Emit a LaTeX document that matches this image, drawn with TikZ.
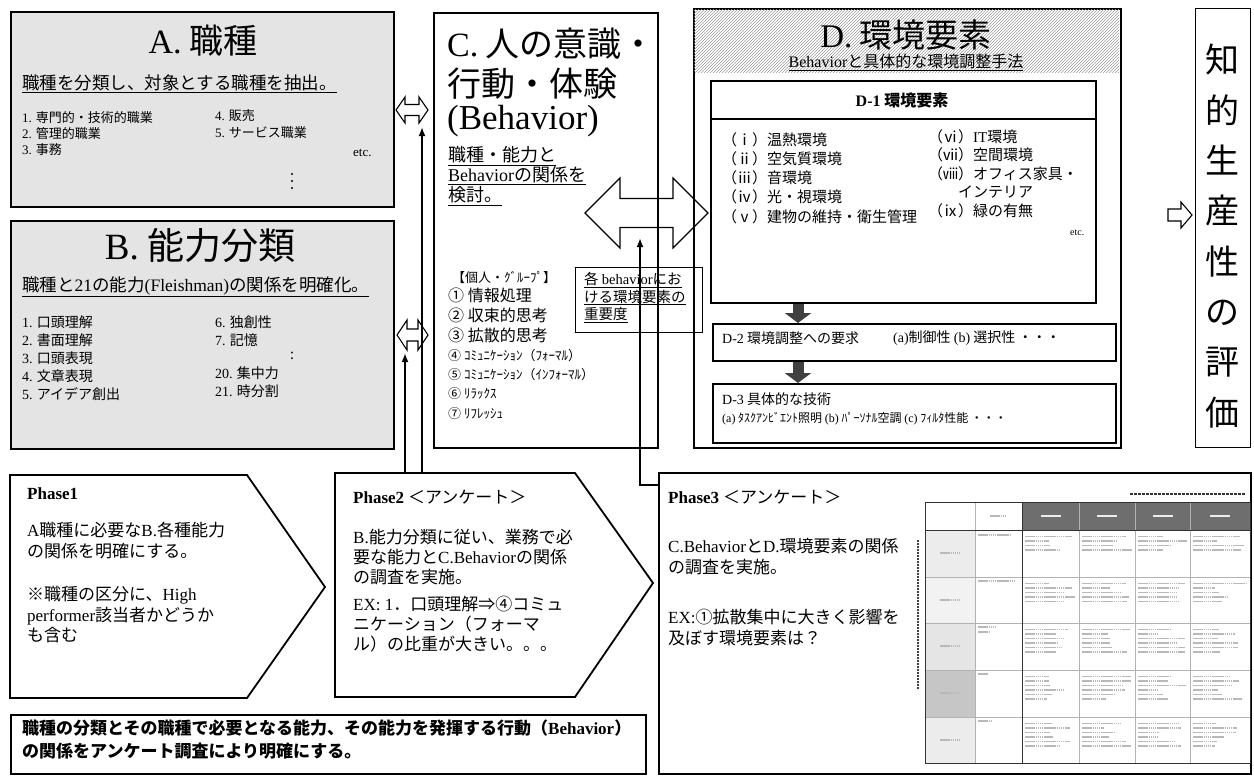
\documentclass[tikz,border=0pt]{standalone}
\usepackage{fontspec}
\setmainfont{Noto Sans CJK JP}
\newfontfamily\sr{Liberation Serif}
\usetikzlibrary{patterns,arrows.meta,calc}
\newcommand\ls[1]{{\sr #1}}
\newcommand\fs[2]{\fontsize{#1}{#2}\selectfont}
\definecolor{boxgray}{HTML}{E4E4E4}
\definecolor{blkgray}{HTML}{404040}
\definecolor{hdrgray}{HTML}{6E6E6E}
\newcommand\dblarrow[6]{% cx cy L h H s
  \draw[hol] ({#1-#3},#2) -- ({#1-#3+#4},{#2-#5}) -- ({#1-#3+#4},{#2-#6}) -- ({#1+#3-#4},{#2-#6}) -- ({#1+#3-#4},{#2-#5}) -- ({#1+#3},#2) -- ({#1+#3-#4},{#2+#5}) -- ({#1+#3-#4},{#2+#6}) -- ({#1-#3+#4},{#2+#6}) -- ({#1-#3+#4},{#2+#5}) -- cycle;}
\begin{document}
\begin{tikzpicture}[x=1pt,y=-1pt,
  box/.style={draw=black,line width=1.8pt},
  txt/.style={inner sep=0pt,anchor=west},
  ml/.style={inner sep=0pt,anchor=north west,align=left},
  ctr/.style={inner sep=0pt},
  conn/.style={draw=black,line width=2pt,-{Latex[length=9pt,width=7pt]}},
  hol/.style={draw=black,line width=1.1pt,line join=miter},
  blkarrow/.style={draw=blkgray,line width=11pt,-{Triangle[length=10pt,width=26pt]}},
  fake/.style={gray!55,line width=1.3pt,dash pattern=on 1.6pt off 0.5pt},
]
\useasboundingbox (0,0) rectangle (1254,777);
\fill[white] (0,0) rectangle (1254,777);

% ---------- A ----------
\node[box,fill=boxgray,anchor=north west,minimum width=383pt,minimum height=195pt,inner sep=0pt] (A) at (10,11) {};
\node[ctr,font=\fs{34}{36}] (Atitle) at (203,41) {\ls{A.} 職種};
\node[txt,font=\fs{17.5}{20}] (Asub) at (22,84) {\underline{職種を分類し、対象とする職種を抽出。}};
\node[ml,font=\fs{13}{16}] (Alist1) at (22,111) {\ls{1.} 専門的・技術的職業\\\ls{2.} 管理的職業\\\ls{3.} 事務};
\node[ml,font=\fs{13}{17}] (Alist2) at (215,109) {\ls{4.} 販売\\\ls{5.} サービス職業};
\node[txt,font=\fs{13}{15}] (Aetc) at (353,153) {\ls{etc.}};
\foreach \yy in {174,181,188} \fill (292,\yy) circle (1.1);

% ---------- B ----------
\node[box,fill=boxgray,anchor=north west,minimum width=383pt,minimum height=228pt,inner sep=0pt] (B) at (10,220) {};
\node[ctr,font=\fs{37}{40}] (Btitle) at (200,246) {\ls{B.} 能力分類};
\node[txt,font=\fs{17.5}{20}] (Bsub) at (22,287) {\underline{職種と\ls{21}の能力\ls{(Fleishman)}の関係を明確化。}};
\node[ml,font=\fs{14}{18}] (Blist1) at (22,316) {\ls{1.} 口頭理解\\\ls{2.} 書面理解\\\ls{3.} 口頭表現\\\ls{4.} 文章表現\\\ls{5.} アイデア創出};
\node[ml,font=\fs{14}{18}] (Blist2) at (215,316) {\ls{6.} 独創性\\\ls{7.} 記憶};
\node[txt,font=\fs{14}{16}] (Bcolon) at (290,356) {:};
\node[ml,font=\fs{14}{18}] (Blist3) at (215,367) {\ls{20.} 集中力\\\ls{21.} 時分割};

% ---------- C ----------
\node[box,fill=white,anchor=north west,minimum width=224pt,minimum height=435pt,inner sep=0pt] (C) at (433,12) {};
\node[txt,font=\fs{34}{36}] (Ct1) at (447,44) {\ls{C.} 人の意識・};
\node[txt,font=\fs{34}{36}] (Ct2) at (447,84) {行動・体験};
\node[txt,font=\fs{35}{36}] (Ct3) at (447,121) {\ls{(Behavior)}};
\node[txt,font=\fs{18}{20}] (Cs1) at (448,156) {\underline{職種・能力と}};
\node[txt,font=\fs{18}{20}] (Cs2) at (448,176) {\underline{\ls{Behavior}の関係を}};
\node[txt,font=\fs{18}{20}] (Cs3) at (448,196) {\underline{検討。}};
\node[txt,font=\fs{13}{15}] (Cg) at (452,278) {【個人・ｸﾞﾙｰﾌﾟ】};
\node[ml,font=\fs{16}{20}] (Cl1) at (448,288) {① 情報処理\\② 収束的思考\\③ 拡散的思考};
\node[ml,font=\fs{13}{19.3}] (Cl2) at (448,349) {④ ｺﾐｭﾆｹｰｼｮﾝ（ﾌｫｰﾏﾙ）\\⑤ ｺﾐｭﾆｹｰｼｮﾝ（ｲﾝﾌｫｰﾏﾙ）\\⑥ ﾘﾗｯｸｽ\\⑦ ﾘﾌﾚｯｼｭ};

% ---------- D ----------
\node[box,fill=white,anchor=north west,minimum width=427pt,minimum height=439pt,inner sep=0pt] (D) at (693,8) {};
\fill[pattern=north east lines,pattern color=gray!75] (694,9) rectangle (1119,72);
\node[ctr,font=\fs{33}{36}] (Dtitle) at (906,35) {\ls{D.} 環境要素};
\node[ctr,font=\fs{16}{18}] (Dsub) at (906,62) {\underline{\ls{Behavior}と具体的な環境調整手法}};

\node[draw=black,line width=2pt,fill=white,anchor=north west,minimum width=385pt,minimum height=222pt,inner sep=0pt] (D1) at (710,80) {};
\draw[line width=1.5pt] (710,119) -- (1095,119);
\node[ctr,font=\fs{16}{18}\bfseries] (D1h) at (902,100) {\ls{D-1} 環境要素};
\node[ml,font=\fs{15}{19.3}] (D1l) at (722,132) {（ⅰ）温熱環境\\（ⅱ）空気質環境\\（ⅲ）音環境\\（ⅳ）光・視環境\\（ⅴ）建物の維持・衛生管理};
\node[ml,font=\fs{15}{18.5}] (D1r) at (928,129) {（ⅵ）\ls{IT}環境\\（ⅶ）空間環境\\（ⅷ）オフィス家具・\\\hspace*{2em}インテリア\\（ⅸ）緑の有無};
\node[txt,font=\fs{10}{12}] (D1etc) at (1070,233) {\ls{etc.}};

\node[draw=black,line width=1.5pt,anchor=north west,minimum width=403pt,minimum height=37pt,inner sep=0pt] (D2) at (712,323) {};
\node[txt,font=\fs{14}{16}] (D2a) at (722,338) {\ls{D-2} 環境調整への要求};
\node[txt,font=\fs{14}{16}] (D2b) at (893,338) {\ls{(a)}制御性 \ls{(b)} 選択性 ・・・};
\node[draw=black,line width=1.5pt,anchor=north west,minimum width=403pt,minimum height=59pt,inner sep=0pt] (D3) at (712,383) {};
\node[txt,font=\fs{14}{16}] (D3a) at (722,399) {\ls{D-3} 具体的な技術};
\node[txt,font=\fs{12}{14}] (D3b) at (722,419) {\ls{(a)} ﾀｽｸｱﾝﾋﾞｴﾝﾄ照明 \ls{(b)} ﾊﾟｰｿﾅﾙ空調 \ls{(c)} ﾌｨﾙﾀ性能 ・・・};

\draw[blkarrow] (798,0 |- D1.south) -- (798,0 |- D2.north);
\draw[blkarrow] (798,0 |- D2.south) -- (798,0 |- D3.north);

% ---------- Right column ----------
\node[draw=black,line width=1.2pt,anchor=north west,minimum width=55pt,minimum height=439pt,inner sep=0pt] (K) at (1195,8) {};
\node[ctr,align=center,font=\fs{34}{50.3}] (Kt) at (1222,236) {知\\的\\生\\産\\性\\の\\評\\価};
\draw[hol] (1168,209) -- (1181,209) -- (1181,202) -- (1192,215) -- (1181,228) -- (1181,221) -- (1168,221) -- cycle;

% ---------- double arrows ----------
\dblarrow{412}{110}{16}{9}{13}{5.5}
\dblarrow{412.5}{335}{15.5}{10}{15}{6}
\dblarrow{646.5}{213}{61.5}{35}{35}{14.5}

% importance box
\node[draw=black,line width=1pt,anchor=north west,minimum width=127pt,minimum height=65pt,inner sep=0pt] (Imp) at (575,267) {};
\node[ml,font=\fs{14.5}{17.5}] (Impt) at (584,272) {\underline{各 \ls{behavior}にお}\\\underline{ける環境要素の}\\\underline{重要度}};

% ---------- Phase 1 ----------
\draw[box,line join=miter] (10,475) -- (247,475) -- (325,587) -- (247,698) -- (10,698) -- cycle;
\node[txt,font=\fs{17}{20}] (P1h) at (27,494) {\ls{\bfseries Phase1}};
\node[ml,font=\fs{17}{20.5}] (P1b) at (27,522) {\ls{A}職種に必要な\ls{B.}各種能力\\の関係を明確にする。\\[23pt]※職種の区分に、\ls{High}\\\ls{performer}該当者かどうか\\も含む};

% ---------- Phase 2 ----------
\draw[box,line join=miter] (335,473) -- (575,473) -- (653,583) -- (575,697) -- (335,697) -- cycle;
\coordinate (P2nw) at (335,473);
\node[txt,font=\fs{17}{20}] (P2h) at (353,497) {\ls{\bfseries Phase2} ＜アンケート＞};
\node[ml,font=\fs{17}{20}] (P2b) at (353,529) {\ls{B.}能力分類に従い、業務で必\\要な能力と\ls{C.Behavior}の関係\\の調査を実施。\\[7pt]\ls{EX: 1}．口頭理解⇒④コミュ\\ニケーション（フォーマ\\ル）の比重が大きい。。。};

% ---------- Phase 3 ----------
\node[box,anchor=north west,minimum width=592pt,minimum height=301pt,inner sep=0pt] (P3) at (658,472) {};
\node[txt,font=\fs{17}{20}] (P3h) at (668,497) {\ls{\bfseries Phase3} ＜アンケート＞};
\node[ml,font=\fs{17}{21}] (P3b) at (668,538) {\ls{C.Behavior}と\ls{D.}環境要素の関係\\の調査を実施。\\[29pt]\ls{EX:}①拡散集中に大きく影響を\\及ぼす環境要素は？};

% table (reduced survey sheet)
\fill[hdrgray] (1022,502) rectangle (1250,530);
\fill[gray!15] (925,530) rectangle (975,577);
\fill[gray!10] (925,577) rectangle (975,623);
\fill[gray!20] (925,623) rectangle (975,670);
\fill[gray!45] (925,670) rectangle (975,717);
\fill[gray!15] (925,717) rectangle (975,763);
\foreach \xx in {975,1079,1135,1190} \draw[gray!60,line width=0.7pt] (\xx,502) -- (\xx,763);
\foreach \yy in {577,623,670,717} \draw[gray!60,line width=0.7pt] (925,\yy) -- (1250,\yy);
\draw[gray!40!black,line width=1pt] (925,502) rectangle (1250,763);
\draw[gray!40!black,line width=1pt] (925,530) -- (1250,530);
\draw[gray!40!black,line width=1pt] (1022,502) -- (1022,763);
\pgfmathsetseed{7}
\foreach \cx/\cw in {1022/57,1079/56,1135/55,1190/60}{
  \draw[white!85!gray,line width=1.5pt] ({\cx+\cw/2-10},516) -- ++(20,0);
  \foreach \ry/\n in {530/4,577/5,623/6,670/6,717/6}{
    \foreach \k in {1,...,\n}{
      \pgfmathsetmacro\len{\cw*(0.35+0.55*rnd)}
      \draw[fake] ({\cx+3},{\ry+2+\k*4.5}) -- ++(\len,0);
    }
  }
}
\draw[fake] (990,516) -- ++(16,0);
\foreach \ry in {553,600,646,693,740} \draw[fake] (940,\ry) -- ++(20,0);
\draw[fake] (978,535) -- ++(32,0);
\draw[fake] (978,581) -- ++(36,0);
\draw[fake] (978,627) -- ++(18,0) (978,632) -- ++(12,0);
\draw[fake] (978,674) -- ++(10,0);
\draw[fake] (978,721) -- ++(14,0);
\draw[gray!40!black,line width=1.5pt,dash pattern=on 3pt off 1pt] (1130,494) -- (1245,494);
\draw[gray!50!black,line width=1.2pt,dash pattern=on 2pt off 1pt] (918,540) -- (918,690);

% ---------- Bottom summary ----------
\node[box,anchor=north west,minimum width=635pt,minimum height=59pt,inner sep=0pt] (BT) at (10,714) {};
\node[ml,font=\fs{17}{23}\bfseries] (BTt) at (22,720) {職種の分類とその職種で必要となる能力、その能力を発揮する行動（\ls{Behavior}）\\の関係をアンケート調査により明確にする。};

% ---------- connectors ----------
\coordinate (acBot) at (422,127);
\coordinate (bcBot) at (405,353);
\coordinate (bigBot) at (640,238);
\draw[conn] (acBot |- P2nw) -- (acBot);
\draw[conn] (bcBot |- P2nw) -- (bcBot);
\draw[conn] ([yshift=-13pt]P3.north west) -| (bigBot);
\end{tikzpicture}
\end{document}
